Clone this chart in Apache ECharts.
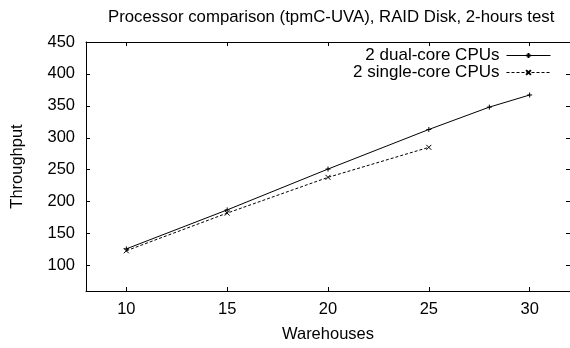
<!DOCTYPE html>
<html>
<head>
<meta charset="utf-8">
<script src="https://cdn.jsdelivr.net/npm/echarts@6/dist/echarts.min.js"></script>
<style>
  html, body { margin: 0; padding: 0; background: #fff; }
  #chart { width: 570px; height: 348px; }
</style>
</head>
<body>
<div id="chart"></div>
<script>
// data
var warehousesDual = [10, 15, 20, 25, 28, 30];
var dualCore = [126, 187, 251, 313, 348, 367];
var warehousesSingle = [10, 15, 20, 25];
var singleCore = [123, 182, 238, 285];
var xTicks = [10, 15, 20, 25, 30];
var yTicks = [100, 150, 200, 250, 300, 350, 400, 450];

var font = 'Liberation Sans, Arial, sans-serif';
var fs = 16.5;
var plusPath = 'path://M0,5L10,5M5,0L5,10';
var crossPath = 'path://M0,0L10,10M10,0L0,10';

function pairs(xs, ys) {
    return xs.map(function (x, i) { return [x, ys[i]]; });
}

function xAxisOpt(pos, showLabel) {
    return {
        type: 'value', position: pos, min: 8, max: 32,
        axisLine: { show: true, onZero: false, lineStyle: { color: '#000', width: 1 } },
        axisTick: { show: true, inside: true, length: 4, customValues: xTicks, lineStyle: { color: '#000' } },
        axisLabel: { show: showLabel, customValues: xTicks, color: '#000', fontSize: fs, fontFamily: font, margin: 10 },
        splitLine: { show: false }
    };
}

function yAxisOpt(pos, showLabel) {
    return {
        type: 'value', position: pos, min: 60, max: 450,
        axisLine: { show: true, onZero: false, lineStyle: { color: '#000', width: 1 } },
        axisTick: { show: true, inside: true, length: 4, customValues: yTicks, lineStyle: { color: '#000' } },
        axisLabel: { show: showLabel, customValues: yTicks, color: '#000', fontSize: fs, fontFamily: font, margin: 11 },
        splitLine: { show: false }
    };
}

var chart = echarts.init(document.getElementById('chart'));

var xBottom = xAxisOpt('bottom', true);
xBottom.name = 'Warehouses';
xBottom.nameLocation = 'middle';
xBottom.nameGap = 35;
xBottom.nameTextStyle = { color: '#000', fontSize: fs, fontFamily: font };

var yLeft = yAxisOpt('left', true);
yLeft.name = 'Throughput';
yLeft.nameLocation = 'middle';
yLeft.nameGap = 60;
yLeft.nameTextStyle = { color: '#000', fontSize: fs, fontFamily: font };

chart.setOption({
    animation: false,
    title: {
        text: 'Processor comparison (tpmC-UVA), RAID Disk, 2-hours test',
        left: 103, top: 4,
        textStyle: { color: '#000', fontSize: 16.8, fontWeight: 'normal', fontFamily: font }
    },
    grid: { left: 86, right: -1, top: 42, bottom: 54 },
    legend: {
        orient: 'vertical',
        right: 14, top: 42,
        align: 'right',
        itemWidth: 44, itemHeight: 6, itemGap: 0,
        lineStyle: { width: 1 },
        textStyle: { color: '#000', fontSize: 17, fontFamily: font, padding: [0, 2, 0, 0] },
        data: ['2 dual-core CPUs', '2 single-core CPUs']
    },
    xAxis: [xBottom, xAxisOpt('top', false)],
    yAxis: [yLeft, yAxisOpt('right', false)],
    series: [
        {
            name: '2 dual-core CPUs',
            type: 'line',
            data: pairs(warehousesDual, dualCore),
            symbol: plusPath, symbolSize: 5,
            lineStyle: { color: '#000', width: 1 },
            itemStyle: { color: '#000', borderColor: '#000', borderWidth: 1 }
        },
        {
            name: '2 single-core CPUs',
            type: 'line',
            data: pairs(warehousesSingle, singleCore),
            symbol: crossPath, symbolSize: 5,
            lineStyle: { color: '#000', width: 1, type: [3, 2] },
            itemStyle: { color: '#000', borderColor: '#000', borderWidth: 1 }
        }
    ]
});
</script>
</body>
</html>
